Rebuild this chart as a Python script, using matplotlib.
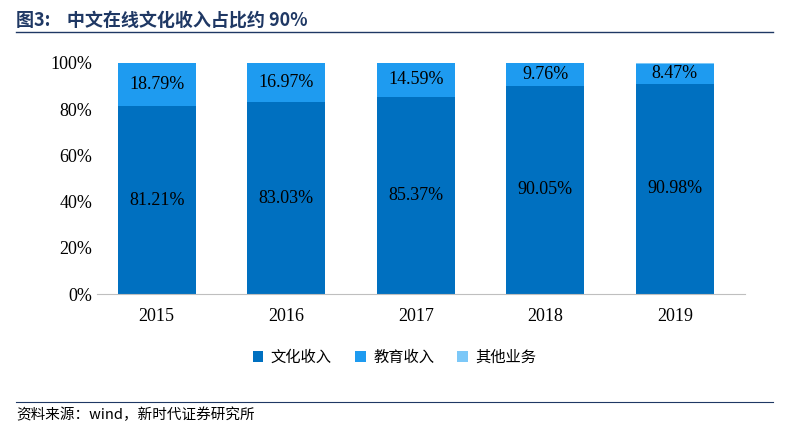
import matplotlib
matplotlib.use("Agg")
import matplotlib.pyplot as plt
from matplotlib.lines import Line2D

years = ["2015", "2016", "2017", "2018", "2019"]
culture = [81.21, 83.03, 85.37, 90.05, 90.98]
education = [18.79, 16.97, 14.59, 9.76, 8.47]
other = [0.0, 0.0, 0.04, 0.19, 0.55]
series_names = ["文化收入", "教育收入", "其他业务"]
colors = ["#0070C0", "#1E9BF0", "#7CC8F8"]

cjk = "Noto Sans CJK SC"
serif = "Liberation Serif"

fig = plt.figure(figsize=(7.89, 4.28), dpi=100)
ax = fig.add_axes([0.123, 0.313, 0.821, 0.54])
x = range(len(years))
w = 0.6
b1 = ax.bar(x, culture, w, color=colors[0])
b2 = ax.bar(x, education, w, bottom=culture, color=colors[1])
bot3 = [c + e for c, e in zip(culture, education)]
b3 = ax.bar(x, other, w, bottom=bot3, color=colors[2])
for i in x:
    ax.text(i, culture[i] / 2, f"{culture[i]:.2f}%", ha="center", va="center",
            fontsize=13, family=serif)
    ax.text(i, culture[i] + education[i] / 2, f"{education[i]:.2f}%", ha="center",
            va="center", fontsize=13, family=serif)
ax.set_ylim(0, 100)
ax.set_xlim(-0.46, 4.54)
ax.set_yticks(range(0, 101, 20))
ax.set_yticklabels([f"{v}%" for v in range(0, 101, 20)], family=serif, fontsize=13)
ax.set_xticks(list(x))
ax.set_xticklabels(years, family=serif, fontsize=13)
for s in ["top", "right", "left"]:
    ax.spines[s].set_visible(False)
ax.spines["bottom"].set_color("#BFBFBF")
ax.tick_params(axis="y", length=0)
ax.tick_params(axis="x", length=0, pad=10)

fig.legend([b1, b2, b3], series_names, loc="center", bbox_to_anchor=(0.5, 0.165),
           ncol=3, frameon=False, prop={"family": cjk, "size": 11},
           handlelength=0.7, handleheight=0.7, columnspacing=1.5, handletextpad=0.5)

fig.text(0.02, 0.975, "图3:    中文在线文化收入占比约 90%", family=cjk, fontweight="bold",
         fontsize=13, color="#1F3864", va="top")
fig.add_artist(Line2D([0.02, 0.98], [0.925, 0.925], color="#1F3864", lw=1))
fig.add_artist(Line2D([0.02, 0.98], [0.06, 0.06], color="#1F3864", lw=0.8))
fig.text(0.02, 0.03, "资料来源：wind，新时代证券研究所", family=cjk, fontsize=10.5,
         va="center")
fig.savefig("out.png", dpi=100)
